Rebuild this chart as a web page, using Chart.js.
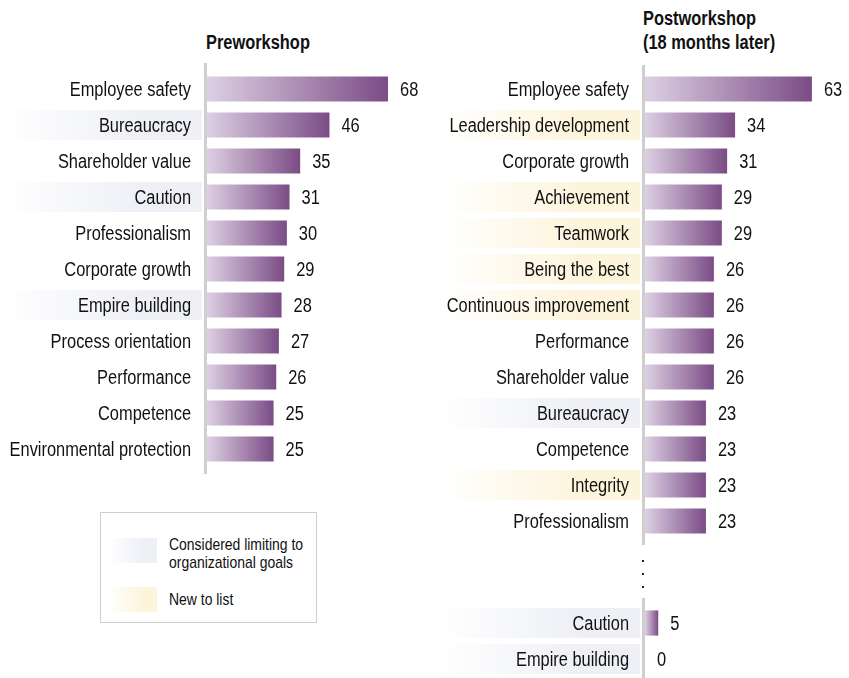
<!DOCTYPE html>
<html>
<head>
<meta charset="utf-8">
<script src="https://cdn.jsdelivr.net/npm/chart.js@4.4.1/dist/chart.umd.min.js"></script>
<style>
  body { margin: 0; background: #fff; width: 849px; height: 678px; position: relative; overflow: hidden;
         font-family: 'Liberation Sans', Arial, sans-serif; color: #111; }
  canvas { position: absolute; }
  .title { position: absolute; font-weight: bold; font-size: 20px; line-height: 24px; white-space: nowrap;
           transform: scaleX(0.82); transform-origin: 0 0; }
  .legend { position: absolute; left: 100px; top: 512px; width: 215px; height: 109px; border: 1px solid #cfcfcf; }
  .sw { position: absolute; left: 8px; width: 48px; height: 25px; }
  .lt { position: absolute; left: 68px; font-size: 17px; line-height: 18px; white-space: nowrap;
        transform: scaleX(0.82); transform-origin: 0 0; }
  .dot { position: absolute; width: 2px; height: 2px; background: #222; left: 642px; }
</style>
</head>
<body>
<div class="title" style="left:206px; top:30px;">Preworkshop</div>
<div class="title" style="left:643px; top:6px;">Postworkshop<br>(18 months later)</div>

<canvas id="preChart" width="430" height="420" style="left:0; top:60px;"></canvas>
<canvas id="postChart" width="419" height="490" style="left:430px; top:60px;"></canvas>
<canvas id="tailChart" width="419" height="83" style="left:430px; top:595px;"></canvas>

<div class="dot" style="top:560px;"></div>
<div class="dot" style="top:573px;"></div>
<div class="dot" style="top:586px;"></div>

<div class="legend">
  <div class="sw" style="top:25px; background: linear-gradient(to right, rgba(238,240,246,0), #eef0f6 70%);"></div>
  <div class="lt" style="top:23px;">Considered limiting to<br>organizational goals</div>
  <div class="sw" style="top:74px; background: linear-gradient(to right, rgba(253,244,220,0), #fdf4dc 70%);"></div>
  <div class="lt" style="top:78px;">New to list</div>
</div>

<script>
  // data
  const preCategories = ['Employee safety', 'Bureaucracy', 'Shareholder value', 'Caution', 'Professionalism',
    'Corporate growth', 'Empire building', 'Process orientation', 'Performance', 'Competence',
    'Environmental protection'];
  const preValues = [68, 46, 35, 31, 30, 29, 28, 27, 26, 25, 25];
  const preTags = ['', 'limit', '', 'limit', '', '', 'limit', '', '', '', ''];

  const postCategories = ['Employee safety', 'Leadership development', 'Corporate growth', 'Achievement',
    'Teamwork', 'Being the best', 'Continuous improvement', 'Performance', 'Shareholder value',
    'Bureaucracy', 'Competence', 'Integrity', 'Professionalism'];
  const postValues = [63, 34, 31, 29, 29, 26, 26, 26, 26, 23, 23, 23, 23];
  const postTags = ['', 'new', '', 'new', 'new', 'new', 'new', '', '', 'limit', '', 'new', ''];

  const tailCategories = ['Caution', 'Empire building'];
  const tailValues = [5, 0];
  const tailTags = ['limit', 'limit'];

  const xMax = 77;
  const FONT = "'Liberation Sans', Arial, sans-serif";
  const SQUEEZE = 0.82;   // fake a condensed face
  Chart.defaults.font.family = FONT;

  const tagColors = { limit: [238, 240, 246], new: [253, 244, 220] };

  function barFill(ctx) {
    const chart = ctx.chart;
    const area = chart.chartArea;
    if (!area || ctx.type !== 'data') return '#a07aa8';
    const x0 = area.left;
    const x1 = chart.scales.x.getPixelForValue(ctx.raw);
    if (x1 - x0 < 1) return '#7b4c86';
    const g = chart.ctx.createLinearGradient(x0, 0, x1, 0);
    g.addColorStop(0, '#ddd0e3');
    g.addColorStop(1, '#7b4c86');
    return g;
  }

  function squeezeText(c, txt, x, y, align) {
    c.save();
    c.translate(x, y);
    c.scale(SQUEEZE, 1);
    c.textAlign = align;
    c.fillText(txt, 0, 0);
    c.restore();
  }

  const decor = {
    id: 'decor',
    beforeDatasetsDraw(chart, args, opts) {
      const c = chart.ctx, a = chart.chartArea, y = chart.scales.y;
      opts.tags.forEach((t, i) => {
        if (!t) return;
        const col = tagColors[t];
        const yc = y.getPixelForValue(i);
        const right = a.left - 5, left = right - 200;
        const g = c.createLinearGradient(left, 0, right, 0);
        g.addColorStop(0, `rgba(${col},0)`);
        g.addColorStop(0.7, `rgb(${col})`);
        g.addColorStop(1, `rgb(${col})`);
        c.fillStyle = g;
        c.fillRect(left, yc - 15, right - left, 30);
      });
      // category labels
      c.save();
      c.font = '20px ' + FONT;
      c.fillStyle = '#111';
      c.textBaseline = 'middle';
      chart.data.labels.forEach((lab, i) => {
        squeezeText(c, lab, a.left - 16, y.getPixelForValue(i) + 1, 'right');
      });
      c.restore();
      // axis line
      c.save();
      c.strokeStyle = '#cfcfcf';
      c.lineWidth = 3;
      c.beginPath();
      c.moveTo(a.left - 1.5, a.top - opts.up);
      c.lineTo(a.left - 1.5, a.bottom + opts.down);
      c.stroke();
      c.restore();
    },
    afterDatasetsDraw(chart) {
      const c = chart.ctx;
      const meta = chart.getDatasetMeta(0);
      c.save();
      c.font = '20px ' + FONT;
      c.fillStyle = '#111';
      c.textBaseline = 'middle';
      meta.data.forEach((bar, i) => {
        squeezeText(c, String(chart.data.datasets[0].data[i]), bar.x + 12, bar.y + 1, 'left');
      });
      c.restore();
    }
  };

  function makeChart(id, labels, values, tags, axisW, pad, up, down) {
    return new Chart(document.getElementById(id), {
      type: 'bar',
      data: {
        labels: labels,
        datasets: [{
          data: values,
          backgroundColor: barFill,
          barPercentage: 0.7,
          categoryPercentage: 1.0,
          borderWidth: 0
        }]
      },
      options: {
        indexAxis: 'y',
        responsive: false,
        animation: false,
        layout: { padding: pad },
        plugins: {
          legend: { display: false },
          tooltip: { enabled: false },
          decor: { tags: tags, up: up, down: down }
        },
        scales: {
          x: { display: false, min: 0, max: xMax },
          y: {
            grid: { display: false, drawTicks: false },
            border: { display: false },
            ticks: { display: false },
            afterFit(scale) { scale.width = axisW; }
          }
        }
      },
      plugins: [decor]
    });
  }

  makeChart('preChart', preCategories, preValues, preTags, 207, { top: 11, bottom: 13, right: 18 }, 8, 7);
  makeChart('postChart', postCategories, postValues, postTags, 215, { top: 11, bottom: 11, right: 0 }, 6, 6);
  makeChart('tailChart', tailCategories, tailValues, tailTags, 215, { top: 10, bottom: 1, right: 0 }, 7, 1);
</script>
</body>
</html>
